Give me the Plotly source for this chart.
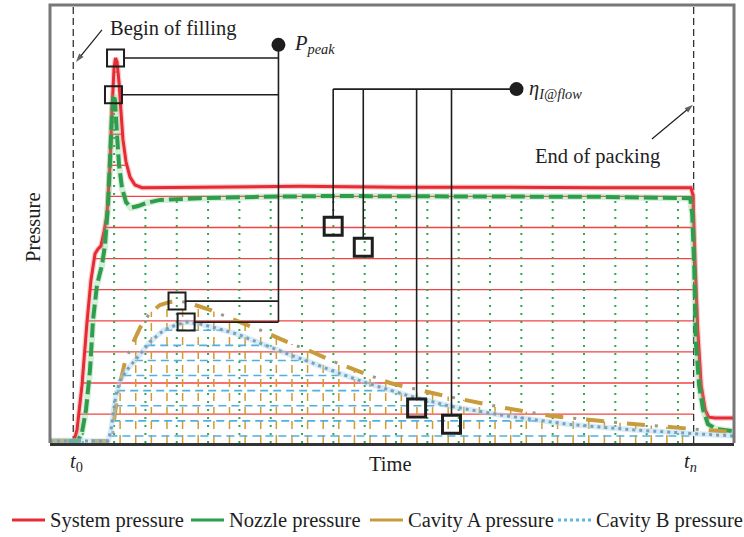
import numpy as np
import plotly.graph_objects as go

# ---- event times (normalised time units) ----
T0 = 3.4    # begin of filling
TN = 94.1   # end of packing

# ---- pressure traces (normalised pressure units) ----
system_t = [0, 3.51, 3.95, 4.68, 5.41, 5.99, 6.58, 7.02, 7.46, 7.89, 8.33, 8.77, 9.06, 9.36,
            9.58, 9.80, 10.09, 10.38, 10.67, 11.11, 11.70, 12.43, 13.45, 21.9, 36.5, 51.2,
            65.8, 80.4, 93.7, 94.0, 94.3, 94.7, 95.2, 95.8, 96.3, 97.2, 100]
system_p = [0.46, 0.46, 2.97, 13.2, 27.6, 37.2, 43.2, 44.3, 45.0, 48.2, 52.1, 63.5, 76.0, 85.6,
            87.9, 87.0, 82.4, 75.6, 69.2, 64.2, 60.7, 58.9, 58.3, 58.4, 58.6, 58.4,
            58.4, 58.3, 58.3, 56.6, 41.8, 25.8, 13.2, 7.5, 5.9, 5.7, 5.7]

nozzle_t = [0, 4.09, 4.68, 5.26, 5.85, 6.29, 6.87, 7.6, 8.04, 8.48, 8.77, 9.06, 9.28, 9.50,
            9.80, 10.09, 10.53, 11.11, 11.84, 12.87, 14.04, 16.08, 21.93, 30.7, 40.9, 58.5,
            80.4, 93.6, 93.9, 94.2, 94.4, 94.9, 95.5, 96.2, 97.4, 100]
nozzle_p = [0.46, 0.46, 2.5, 7.5, 16.7, 28.1, 36.1, 40.6, 45.2, 54.3, 64.6, 74.9, 79.5, 78.3,
            70.3, 63.5, 58.2, 55.0, 53.7, 54.1, 54.8, 55.5, 55.9, 56.2, 56.4, 56.3,
            56.2, 55.9, 52.1, 39.5, 23.5, 13.2, 7.5, 4.3, 3.2, 2.7]

cavity_a_t = [0, 9.06, 9.36, 9.94, 10.96, 11.99, 13.16, 14.62, 16.08, 17.54, 18.57, 19.74,
              21.2, 23.4, 26.3, 30.7, 35.1, 38.0, 42.4, 49.7, 57.0, 65.8, 73.1, 81.9, 90.6,
              94.0, 100]
cavity_a_p = [0.46, 0.46, 5.25, 11.6, 18.5, 22.4, 26.3, 29.7, 31.5, 32.2, 32.4, 32.2,
              31.5, 30.4, 28.5, 25.8, 22.8, 21.0, 18.0, 13.7, 11.0, 8.2, 6.2, 4.8, 3.65,
              3.2, 2.5]

cavity_b_t = [0, 8.48, 8.92, 9.21, 9.65, 10.23, 11.26, 12.43, 13.45, 14.62, 16.5, 18.3, 19.9,
              21.9, 24.1, 27.3, 30.7, 35.5, 38.0, 41.4, 46.3, 52.6, 58.5, 65.8, 75.6, 85.2,
              95.0, 100]
cavity_b_p = [0.46, 0.46, 2.97, 6.4, 11.0, 14.2, 16.7, 18.9, 20.8, 23.1, 25.6, 26.9, 27.6,
              27.2, 26.3, 24.9, 22.8, 19.9, 18.5, 16.4, 13.7, 10.7, 8.4, 6.4, 4.3, 3.0,
              2.05, 1.6]

series_names = ["System pressure", "Nozzle pressure", "Cavity A pressure", "Cavity B pressure"]

# sample points of the flow index and the annotation anchors
eta_t = [41.4, 45.8, 53.6, 58.7]
eta_p = [49.5, 44.7, 8.0, 4.3]
ppeak_anchor = (33.4, 90.9)
eta_anchor = (68.2, 80.8)

# arrows pointing at the event lines: (tail t, tail p, head t, head p)
fill_arrow = (7.6, 94.3, 3.8, 87.0)
pack_arrow = (88.0, 69.4, 94.0, 77.2)

# ---- hatch spacing under each curve ----
system_levels = 6.6 + 7.1 * np.arange(12)
nozzle_cols = 4.79 + 4.58 * np.arange(20)
cavity_a_cols = 10.25 + 2.284 * np.arange(40)
cavity_b_levels = 1.6 + 3.45 * np.arange(8)

# ---- colours / fonts ----
RED = "#e62b33"
GREEN = "#2f9e4c"
GOLD = "#c89b3c"
BLUE = "#5cb6e6"
INK = "#1e1e1e"
FONT = "Liberation Serif"
FS = 20.5

# ---- plot geometry ----
W, H = 744, 537
ML, MR, MT, MB = 50, 10, 5, 94
PX_T = (W - ML - MR) / 100.0
PX_P = (H - MT - MB) / 100.0

FINE = np.linspace(0, 100, 20001)


def runs_above(t, p, level):
    y = np.interp(FINE, t, p)
    mask = (y >= level) & (FINE >= T0) & (FINE <= TN)
    edges = np.flatnonzero(np.diff(np.concatenate(([0], mask.astype(int), [0]))))
    return [(FINE[a], FINE[b - 1]) for a, b in zip(edges[::2], edges[1::2])]


def h_hatch(t, p, levels):
    xs, ys = [], []
    for lv in levels:
        for a, b in runs_above(t, p, lv):
            xs += [a, b, None]
            ys += [lv, lv, None]
    return xs, ys


def v_hatch(t, p, cols):
    xs, ys = [], []
    for c in cols:
        if c < T0 or c > TN:
            continue
        top = float(np.interp(c, t, p))
        xs += [c, c, None]
        ys += [0, top, None]
    return xs, ys


fig = go.Figure()


def add_line(x, y, color, width, dash="solid", opacity=1.0):
    fig.add_trace(go.Scatter(x=x, y=y, mode="lines", showlegend=False, hoverinfo="skip",
                             opacity=opacity,
                             line=dict(color=color, width=width, dash=dash, simplify=False)))


# hatching under the curves
hx, hy = h_hatch(system_t, system_p, system_levels)
add_line(hx, hy, "#f03a3a", 1.3, opacity=0.95)
hx, hy = v_hatch(nozzle_t, nozzle_p, nozzle_cols)
add_line(hx, hy, "#33a852", 2, "2px,6px")
hx, hy = v_hatch(cavity_a_t, cavity_a_p, cavity_a_cols)
add_line(hx, hy, "#d49a2e", 1.5, "8px,6px")
hx, hy = h_hatch(cavity_b_t, cavity_b_p, cavity_b_levels)
add_line(hx, hy, "#4fb0e6", 1.6, "8px,5px")

# event lines t0 / tn
add_line([T0, T0, None, TN, TN], [0, 100, None, 0, 100], "#333333", 1.3, "7px,4px")

# pressure curves (soft halo + core)
add_line(system_t, system_p, "rgba(240,110,115,0.35)", 5.5)
add_line(system_t, system_p, RED, 3)
add_line(nozzle_t, nozzle_p, "rgba(110,200,130,0.3)", 6.5)
add_line(nozzle_t, nozzle_p, GREEN, 4, "14px,5px")
add_line(cavity_a_t, cavity_a_p, GOLD, 4, "18px,23px")
add_line(cavity_a_t, cavity_a_p, "#9a9a8a", 3, "0px,28px,3px,10px")
add_line(cavity_b_t, cavity_b_p, "rgba(165,212,240,0.45)", 5.5)
add_line(cavity_b_t, cavity_b_p, "#7f9fb8", 3, "3px,4px")

# peak markers for P_peak
peaks = []
for t, p in [(system_t, system_p), (nozzle_t, nozzle_p), (cavity_a_t, cavity_a_p), (cavity_b_t, cavity_b_p)]:
    i = int(np.argmax(p))
    peaks.append((t[i], p[i]))

half_t = 8.5 / PX_T
half_p = 9.0 / PX_P

cx, cy = [ppeak_anchor[0], ppeak_anchor[0], None], [ppeak_anchor[1], min(pp for _, pp in peaks), None]
for pt, pp in peaks:
    cx += [pt + half_t, ppeak_anchor[0], None]
    cy += [pp, pp, None]
cx += [eta_t[0], eta_anchor[0], None]
cy += [eta_anchor[1], eta_anchor[1], None]
for et, ep in zip(eta_t, eta_p):
    cx += [et, et, None]
    cy += [eta_anchor[1], ep + half_p, None]
add_line(cx, cy, INK, 1.6)

fig.add_trace(go.Scatter(x=[pt for pt, _ in peaks], y=[pp for _, pp in peaks], mode="markers",
                         showlegend=False, hoverinfo="skip",
                         marker=dict(symbol="square-open", size=17, color=INK, line=dict(width=2, color=INK))))
fig.add_trace(go.Scatter(x=eta_t, y=eta_p, mode="markers", showlegend=False, hoverinfo="skip",
                         marker=dict(symbol="square-open", size=18, color=INK, line=dict(width=3, color=INK))))
fig.add_trace(go.Scatter(x=[ppeak_anchor[0], eta_anchor[0]], y=[ppeak_anchor[1], eta_anchor[1]],
                         mode="markers", showlegend=False, hoverinfo="skip",
                         marker=dict(symbol="circle", size=14, color=INK)))

# arrows to the event lines
for tt, tp, ht, hp in (fill_arrow, pack_arrow):
    fig.add_trace(go.Scatter(x=[tt, ht], y=[tp, hp], mode="lines+markers", showlegend=False,
                             hoverinfo="skip", line=dict(color=INK, width=1.2),
                             marker=dict(symbol=["circle", "arrow"], size=[0, 9], angleref="previous",
                                         color=INK, line=dict(width=0))))

font = dict(family=FONT, size=FS, color=INK)
ann = []
ann.append(dict(x=8.5, y=94.7, xref="x", yref="y", text="Begin of filling", showarrow=False,
                xanchor="left", yanchor="middle", font=font))
ann.append(dict(x=70.6, y=65.3, xref="x", yref="y", text="End of packing", showarrow=False,
                xanchor="left", yanchor="middle", font=font))
ann.append(dict(x=ppeak_anchor[0] + 14 / PX_T, y=ppeak_anchor[1], xref="x", yref="y",
                text="<i>P</i><sub><i>peak</i></sub>", showarrow=False,
                xanchor="left", yanchor="middle", font=font))
ann.append(dict(x=eta_anchor[0] + 11 / PX_T, y=eta_anchor[1], xref="x", yref="y",
                text="<i>η</i><sub><i>I@flow</i></sub>", showarrow=False,
                xanchor="left", yanchor="middle", font=font))
ann.append(dict(x=T0, y=-0.045, xref="x", yref="paper", text="<i>t</i><sub>0</sub>",
                showarrow=False, xanchor="center", yanchor="middle", xshift=3, font=font))
ann.append(dict(x=TN, y=-0.045, xref="x", yref="paper", text="<i>t</i><sub><i>n</i></sub>",
                showarrow=False, xanchor="center", yanchor="middle", xshift=-3, font=font))
ann.append(dict(x=(390 - ML) / (W - ML - MR), y=-0.048, xref="paper", yref="paper", text="Time",
                showarrow=False, xanchor="center", yanchor="middle", font=font))
ann.append(dict(x=(33 - ML) / (W - ML - MR), y=0.491, xref="paper", yref="paper", text="Pressure",
                showarrow=False, xanchor="center", yanchor="middle", textangle=-90, font=font))

# legend row
shapes = [dict(type="path", xref="paper", yref="paper", path="M0,0 L0,1 L1,1 L1,0",
               line=dict(color="#777777", width=3), layer="above")]
leg_start = [12, 191, 370, 558]
leg_style = [(RED, 3, "solid"), (GREEN, 3, "solid"), (GOLD, 3, "solid"), (BLUE, 3, "3px,3px")]
pw, ph = W - ML - MR, H - MT - MB
ly = (H - MB - 520) / ph
for name, x0, (col, wd, ds) in zip(series_names, leg_start, leg_style):
    shapes.append(dict(type="line", xref="paper", yref="paper",
                       x0=(x0 - ML) / pw, x1=(x0 + 33 - ML) / pw, y0=ly, y1=ly,
                       line=dict(color=col, width=wd, dash=ds)))
    ann.append(dict(x=(x0 + 36 - ML) / pw, y=ly, xref="paper", yref="paper", text=name,
                    showarrow=False, xanchor="left", yanchor="middle", font=font))

fig.update_layout(
    width=W, height=H,
    margin=dict(l=ML, r=MR, t=MT, b=MB),
    paper_bgcolor="white", plot_bgcolor="white",
    showlegend=False,
    xaxis=dict(range=[0, 100], showgrid=False, zeroline=False, showticklabels=False, ticks="",
               showline=True, linecolor="#333333", linewidth=3, fixedrange=True),
    yaxis=dict(range=[0, 100], showgrid=False, zeroline=False, showticklabels=False, ticks="",
               showline=False, fixedrange=True),
    annotations=ann,
    shapes=shapes,
)

fig.write_html("out.html")
